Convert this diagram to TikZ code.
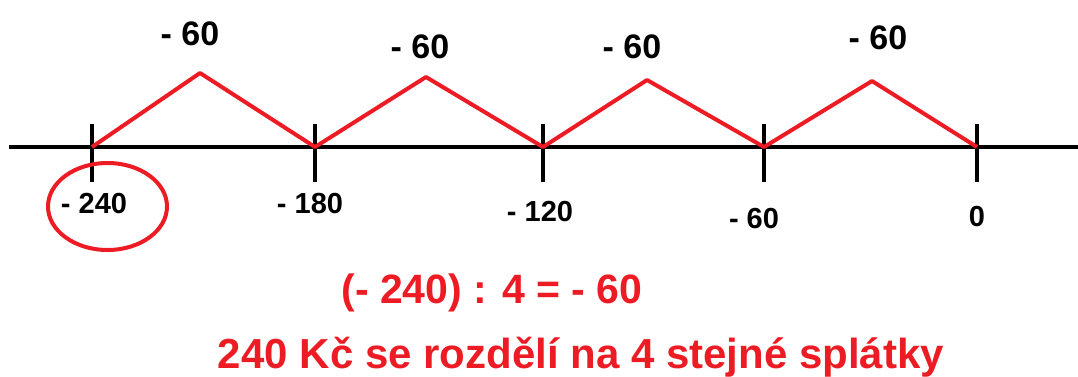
\documentclass[tikz,border=0pt]{standalone}
\usepackage{fontspec}
\setmainfont{Liberation Sans}
\definecolor{paintred}{RGB}{237,28,36}
\begin{document}
\begin{tikzpicture}[x=1pt,y=-1pt,
  achse/.style={line width=4.5pt},
  strich/.style={line width=4pt},
  bogen/.style={paintred,line width=4pt,line join=round},
  oben/.style={anchor=base,font=\fontsize{34}{40}\selectfont\bfseries},
  unten/.style={anchor=base,font=\fontsize{29}{34}\selectfont\bfseries},
  rechnung/.style={anchor=base,text=paintred,font=\fontsize{41}{48}\selectfont\bfseries}]
\useasboundingbox (0,0) rectangle (1078,376);
% Teilstriche auf der Zahlengeraden
\coordinate (T1) at ( 92,147);
\coordinate (T2) at (315,147);
\coordinate (T3) at (543,147);
\coordinate (T4) at (764,147);
\coordinate (T5) at (977,147);
% Spitzen der Zickzacklinie
\coordinate (S1) at (200, 73);
\coordinate (S2) at (426, 77);
\coordinate (S3) at (647, 80);
\coordinate (S4) at (872, 81);
% Enden der Achse, Mitte des Kreises
\coordinate (L) at (   9,147);
\coordinate (R) at (1078,147);
\coordinate (K) at (107.5,206.5);
% Zahlengerade mit Teilstrichen
\draw[achse] (L) -- (R);
\foreach \t in {T1,T2,T3,T4,T5}
  \draw[strich] ([yshift=23pt]\t) -- ([yshift=-35pt]\t);
% Raten (rot)
\draw[bogen] (T1) -- (S1) -- (T2) -- (S2) -- (T3) -- (S3) -- (T4) -- (S4) -- (T5);
\draw[bogen] (K) ellipse [x radius=59.5pt, y radius=43.5pt];
% Beschriftungen oben
\node[oben] (m1) at (190,45) {- 60};
\node[oben] (m2) at (420,58) {- 60};
\node[oben] (m3) at (632,58) {- 60};
\node[oben] (m4) at (878,49) {- 60};
% Beschriftungen unten
\node[unten] (w240) at ( 94,213) {- 240};
\node[unten] (w180) at (310,213) {- 180};
\node[unten] (w120) at (540,221) {- 120};
\node[unten] (w60)  at (754,228) {- 60};
\node[unten] (w0)   at (977,226) {0};
% Rechnung
\node[rechnung] (gl) at (492,303) {(- 240) : 4 = - 60};
\node[rechnung,font=\fontsize{42}{50}\selectfont\bfseries] (satz) at (581,368) {240 Kč se rozdělí na 4 stejné splátky};
\end{tikzpicture}
\end{document}
